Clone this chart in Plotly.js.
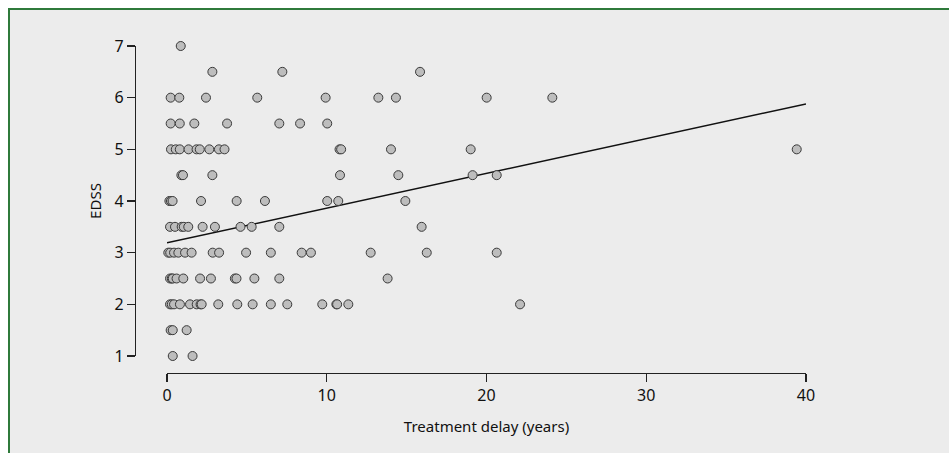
<!DOCTYPE html>
<html>
<head>
<meta charset="utf-8">
<script src="https://cdn.plot.ly/plotly-3.0.1.min.js"></script>
<style>
  html, body { margin:0; padding:0; background:#ffffff; width:949px; height:453px; overflow:hidden; }
  #frame { position:absolute; left:8px; top:8px; right:0; bottom:0; background:#ececec;
           border-top:2px solid #2f7a3b; border-left:2px solid #2f7a3b; }
  #chart { position:absolute; left:0; top:0; width:949px; height:453px; }
</style>
</head>
<body>
<div id="frame"></div>
<div id="chart"></div>
<script>
// Treatment delay (years) and EDSS per patient
const delay7   = [0.86];
const delay6_5 = [2.84, 7.22, 15.84];
const delay6   = [0.23, 0.77, 2.44, 5.65, 9.93, 13.23, 14.33, 20.01, 24.12];
const delay5_5 = [0.23, 0.8, 1.71, 3.76, 7.03, 8.33, 10.03];
const delay5   = [0.25, 0.55, 0.8, 1.35, 1.85, 2.05, 2.65, 3.25, 3.6, 10.8, 10.9, 14.02, 19.01, 39.42];
const delay4_5 = [0.9, 1.0, 2.84, 10.83, 14.48, 19.13, 20.64];
const delay4   = [0.15, 0.25, 0.35, 2.13, 4.36, 6.13, 10.03, 10.72, 14.92];
const delay3_5 = [0.19, 0.5, 0.92, 1.05, 1.33, 2.23, 3.0, 4.6, 5.3, 7.03, 15.94];
const delay3   = [0.08, 0.2, 0.44, 0.71, 1.13, 1.54, 2.86, 3.26, 4.95, 6.5, 8.43, 9.01, 12.75, 16.26, 20.64];
const delay2_5 = [0.19, 0.3, 0.36, 0.6, 1.02, 2.07, 2.75, 4.25, 4.35, 5.47, 7.03, 13.81];
const delay2   = [0.19, 0.3, 0.44, 0.81, 1.44, 1.86, 2.1, 2.17, 3.21, 4.4, 5.36, 6.5, 7.53, 9.72, 10.6, 10.65, 11.35, 22.1];
const delay1_5 = [0.23, 0.36, 1.23];
const delay1   = [0.36, 1.6];

const edssLevels = [7, 6.5, 6, 5.5, 5, 4.5, 4, 3.5, 3, 2.5, 2, 1.5, 1];
const delaysByLevel = [delay7, delay6_5, delay6, delay5_5, delay5, delay4_5, delay4, delay3_5, delay3, delay2_5, delay2, delay1_5, delay1];

// Regression line end points
const fitX = [0, 40];
const fitY = [3.19, 5.88];

const xTicks = [0, 10, 20, 30, 40];
const yTicks = [1, 2, 3, 4, 5, 6, 7];

const ptsX = [], ptsY = [];
delaysByLevel.forEach((arr, i) => arr.forEach(d => { ptsX.push(d); ptsY.push(edssLevels[i]); }));

const W = 949, H = 453;
const px = v => v / W;
const py = v => 1 - v / H;

const traces = [
  { type:'scatter', mode:'lines', x: fitX, y: fitY, xaxis:'x', yaxis:'y',
    line:{ color:'#111111', width:1.5 }, cliponaxis:false, hoverinfo:'skip' },
  { type:'scatter', mode:'markers', x: ptsX, y: ptsY, xaxis:'x', yaxis:'y',
    marker:{ symbol:'circle', size:9, color:'#bdbdbd', line:{ color:'#3a3a3a', width:1 } },
    cliponaxis:false },
  { type:'scatter', mode:'markers', x: [], y: [], xaxis:'x2', yaxis:'y2', hoverinfo:'skip' }
];

const axisCommon = {
  showline:true, linecolor:'#222222', linewidth:1.2,
  ticks:'outside', ticklen:8, tickwidth:1.2, tickcolor:'#222222',
  showgrid:false, zeroline:false, tickmode:'array',
  tickfont:{ size:16, color:'#111111', family:'Noto Sans, sans-serif' }
};

const layout = {
  width: W, height: H,
  margin:{ l:0, r:0, t:0, b:0, pad:0 },
  paper_bgcolor:'rgba(0,0,0,0)', plot_bgcolor:'rgba(0,0,0,0)',
  showlegend:false,
  font:{ family:'Noto Sans, sans-serif', color:'#111111' },
  xaxis: Object.assign({}, axisCommon, {
    domain:[px(167), px(806)], range:[0, 40], anchor:'y2',
    tickvals: xTicks,
    title:{ text:'Treatment delay (years)', font:{ size:15, color:'#111111' }, standoff:16 }
  }),
  yaxis: Object.assign({}, axisCommon, {
    domain:[py(356), py(46)], range:[1, 7], anchor:'x2',
    tickvals: yTicks,
    title:{ text:'EDSS', font:{ size:15, color:'#111111' }, standoff:9 }
  }),
  xaxis2:{ domain:[px(136), px(806)], anchor:'y2', visible:false, range:[0,1] },
  yaxis2:{ domain:[py(373), py(46)], anchor:'x2', visible:false, range:[0,1] }
};

Plotly.newPlot('chart', traces, layout, { staticPlot:true, displayModeBar:false });
</script>
</body>
</html>
